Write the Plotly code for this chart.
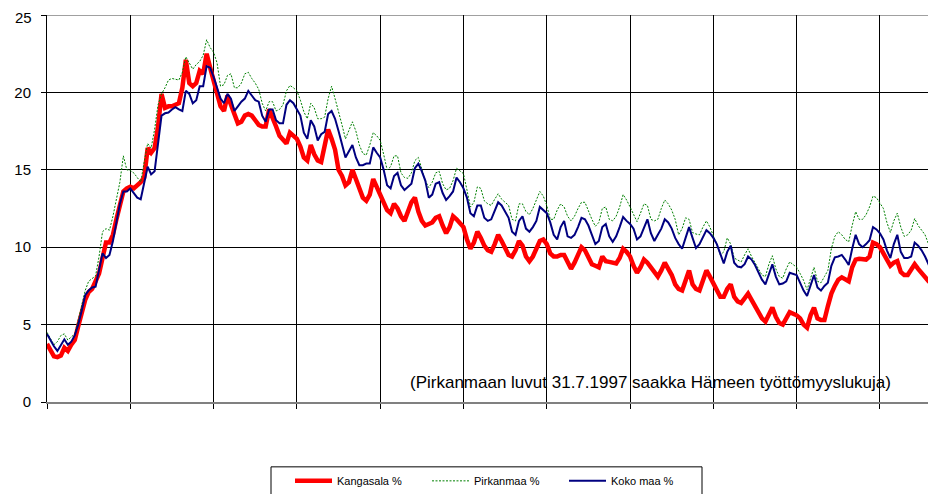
import plotly.graph_objects as go

months = list(range(257))

kangasala = [
    3.75, 3.3, 2.95, 2.9, 3.0, 3.5, 3.3, 3.7, 4.0, 4.9, 5.9, 6.6,
    7.1, 7.3, 7.8, 8.3, 9.3, 10.3, 10.3, 10.8, 11.8, 12.8, 13.6, 13.8,
    13.9, 13.8, 14.0, 14.2, 14.5, 16.4, 16.1, 16.4, 17.8, 19.9, 19.0, 19.1,
    19.1, 19.2, 19.3, 20.3, 22.1, 20.6, 20.4, 20.6, 21.4, 21.2, 22.5, 21.6,
    20.7, 19.8, 19.1, 18.8, 19.8, 19.2, 18.5, 18.0, 18.1, 18.5, 18.6, 18.5,
    18.2, 17.9, 17.8, 17.8, 18.9, 18.4, 17.8, 17.2, 16.9, 16.7, 17.4, 17.2,
    17.0, 16.5, 15.8, 15.6, 16.6, 16.0, 15.6, 15.5, 16.4, 17.6, 17.0, 16.3,
    15.0, 14.6, 14.0, 14.2, 15.0, 14.4, 13.6, 13.2, 13.0, 13.4, 14.4, 13.9,
    13.4, 12.9, 12.4, 12.2, 12.8, 12.5, 12.0, 11.7, 12.3, 12.9, 13.2, 12.3,
    11.7, 11.4, 11.5, 11.6, 11.9, 12.0, 11.4, 10.9, 11.3, 12.0, 11.8, 11.5,
    11.3, 10.5, 9.9, 10.3, 11.0, 10.6, 10.1, 9.8, 9.7, 10.2, 10.8, 10.4,
    9.9, 9.5, 9.4, 9.8, 10.4, 10.1, 9.4, 9.1, 9.4, 9.9, 10.4, 10.5,
    10.2, 9.6, 9.4, 9.4, 9.5, 9.5, 9.0, 8.6, 9.0, 9.6, 10.0, 9.8,
    9.3, 8.9, 8.8, 8.7, 9.4, 9.1, 9.05, 9.0, 8.95, 9.3, 9.9, 9.7,
    9.4, 8.8, 8.35, 8.7, 9.2, 9.0, 8.7, 8.4, 8.1, 8.5, 9.0, 8.6,
    8.2, 7.6, 7.3, 7.2, 7.9, 8.5, 7.6, 7.3, 7.2, 7.8, 8.5, 8.1,
    7.7, 7.2, 6.8, 6.8, 7.3, 7.6, 6.8, 6.5, 6.4, 6.7, 7.0, 6.6,
    6.2, 5.8, 5.4, 5.2, 5.7, 6.1, 5.5, 5.1, 5.0, 5.4, 5.8, 5.7,
    5.6, 5.4, 5.0, 4.8, 5.6, 6.1, 5.4, 5.3, 5.3, 6.2, 7.0, 7.5,
    7.9, 8.05, 7.9, 7.8, 8.7, 9.2, 9.25, 9.2, 9.2, 9.4, 10.3, 10.2,
    10.0, 9.6, 9.2, 8.8, 9.0, 9.1, 8.4, 8.2, 8.2, 8.5, 8.9, 8.6,
    8.3, 8.1, 7.8, 7.6, 7.7,
]

pirkanmaa = [
    4.5, 4.1, 3.7, 3.9, 4.3, 4.4, 4.0, 4.2, 4.4, 5.3, 6.3, 7.2,
    7.8, 8.0, 8.15, 9.4, 11.0, 11.2, 11.1, 12.0, 13.1, 14.2, 15.9, 15.0,
    14.95, 14.8, 14.5, 14.2, 15.5, 16.7, 16.4, 17.6, 19.2, 19.9, 20.3, 20.8,
    20.9, 20.85, 20.8, 21.3, 22.3, 21.9, 21.5, 21.8, 22.0, 22.4, 23.4, 22.9,
    22.6, 21.9, 20.4, 20.5, 21.1, 21.2, 20.3, 20.3, 20.6, 21.2, 21.3, 20.9,
    20.6, 20.2, 19.3, 18.8, 19.4, 19.4, 18.8, 18.9, 19.2, 20.1, 20.45, 20.3,
    20.1, 19.5, 18.75, 18.3, 19.3, 19.0, 18.3, 18.3, 18.4, 19.6, 20.4, 19.6,
    18.8, 17.9, 17.0, 17.5, 18.1, 17.5, 16.6, 16.05, 15.95, 16.6, 17.4, 17.2,
    16.9, 16.0, 15.0, 15.2, 15.9, 15.9, 14.8, 14.5, 14.45, 14.8, 15.6, 15.8,
    15.1, 14.3, 13.85, 14.2, 14.8, 14.9, 14.1, 13.7, 13.8, 14.3, 15.1, 14.9,
    14.75, 13.7, 12.6, 12.9, 13.9, 13.8, 13.0, 12.8, 12.7, 13.1, 13.45, 13.1,
    12.9, 12.7, 11.8, 11.7, 12.8, 12.8, 12.3, 12.1, 12.5, 13.0, 13.6, 13.3,
    12.7, 11.8, 11.8, 12.4, 12.8, 12.6, 12.0, 11.7, 12.0, 12.5, 12.9, 12.9,
    12.3, 11.8, 11.35, 11.6, 12.5, 12.6, 11.8, 11.7, 12.0, 12.6, 13.4, 13.05,
    12.6, 12.1, 11.65, 12.2, 12.8, 12.7, 11.8, 11.7, 11.8, 12.5, 13.05, 12.8,
    12.4, 11.8, 10.8, 11.2, 11.9, 11.8, 10.95, 10.85, 10.8, 11.3, 11.7, 11.3,
    10.8, 10.2, 9.5, 9.7, 10.6, 10.2, 9.3, 9.15, 9.05, 9.5, 9.9, 9.4,
    8.95, 8.6, 8.2, 8.1, 8.9, 9.45, 8.6, 8.1, 8.0, 8.6, 9.05, 8.9,
    8.7, 8.3, 7.85, 7.25, 8.0, 8.7, 7.8, 7.7, 8.1, 8.5, 9.9, 10.7,
    11.0, 10.8, 10.5, 10.35, 11.4, 12.3, 11.8, 11.8, 12.1, 12.6, 13.3, 13.2,
    12.85, 12.5, 11.6, 10.95, 11.7, 12.2, 11.3, 10.7, 10.8, 11.1, 11.85, 11.4,
    11.1, 10.8, 10.2, 9.7, 10.1,
]

koko_maa = [
    4.4, 4.0, 3.6, 3.3, 3.7, 4.05, 3.7, 3.9, 4.3, 5.0, 5.9, 6.9,
    7.2, 7.4, 7.45, 8.5, 9.6, 9.3, 9.5, 10.4, 11.6, 12.8, 13.6, 13.6,
    13.8, 13.5, 13.2, 13.1, 14.2, 15.2, 14.7, 14.9, 16.7, 18.5, 18.65, 18.7,
    18.9, 19.05, 18.9, 18.8, 20.1, 19.9, 19.3, 19.5, 20.4, 20.4, 21.7, 21.6,
    21.0, 20.3, 19.6, 19.3, 19.9, 19.6, 18.8, 19.1, 19.4, 19.6, 20.1, 19.8,
    19.5, 19.4, 18.5, 18.1, 18.9, 18.9, 18.2, 18.0, 18.0, 19.2, 19.5, 19.3,
    18.9, 18.5, 17.4, 17.0, 18.2, 17.8, 16.9, 17.3, 17.45, 18.6, 18.8, 18.3,
    17.5, 16.7, 15.8, 16.2, 16.6, 15.8, 15.3, 15.3, 15.4, 15.4, 16.45, 16.1,
    15.8, 15.0, 14.0, 13.8, 14.6, 14.8, 14.0, 13.7, 13.9, 14.1, 15.1, 15.4,
    14.9, 14.3, 13.2, 13.4, 14.1, 14.2, 13.5, 13.05, 13.3, 13.6, 14.5, 14.2,
    13.8, 13.2, 12.2, 12.0, 12.7, 12.7, 11.9, 11.7, 11.8, 12.3, 12.9, 12.7,
    12.3, 11.9, 11.0, 10.8, 11.7, 12.0, 11.2, 11.0, 11.3, 11.7, 12.6, 12.4,
    12.2, 11.6, 10.8, 10.5, 11.3, 11.7, 10.7, 10.6, 10.8, 11.3, 11.9, 11.8,
    11.4, 10.8, 10.2, 10.4, 11.3, 11.5, 10.7, 10.35, 10.7, 11.3, 11.95, 11.7,
    11.5, 11.2, 10.5, 10.7, 11.3, 11.8, 10.9, 10.4, 10.8, 11.2, 11.8, 11.6,
    11.2, 10.6, 10.2, 9.9, 10.6, 11.3, 10.6, 9.95, 10.2, 10.7, 11.1, 10.9,
    10.6, 10.2, 9.6, 8.95, 9.7, 10.1, 9.0, 8.75, 8.7, 8.9, 9.4, 9.2,
    8.85, 8.4, 7.9, 7.6, 8.3, 8.9, 8.1, 7.6, 7.65, 7.8, 8.35, 8.3,
    8.2, 7.7, 7.2, 6.85, 7.5, 8.2, 7.4, 7.2, 7.5, 7.7, 8.8, 9.35,
    9.4, 9.5, 9.2, 8.85, 9.9, 10.8, 10.2, 10.0, 10.2, 10.45, 11.3, 11.15,
    10.9, 10.5, 9.8, 9.3, 10.2, 10.8, 9.7, 9.3, 9.3, 9.4, 10.3, 10.1,
    9.8, 9.4, 8.9, 8.3, 9.1,
]

series_names = ["Kangasala %", "Pirkanmaa %", "Koko maa %"]
y_ticks = [0, 5, 10, 15, 20, 25]
y_tick_labels = ["0", "5", "10", "15", "20", "25"]
x_grid = [0, 24, 48, 72, 96, 120, 144, 168, 192, 216, 240]
note = "(Pirkanmaan luvut 31.7.1997 saakka Hämeen työttömyyslukuja)"

FONT = "Arial, 'Liberation Sans', sans-serif"

# the page body adds an 8px offset; figure sized so it ends at the window edge
OFF = 8
W, H = 936 - OFF, 494 - OFF
PLOT_LEFT, PLOT_TOP, PLOT_BOTTOM = 47, 15, 401.7   # page pixels
L = PLOT_LEFT - OFF
T = PLOT_TOP - OFF
B = H - (PLOT_BOTTOM - OFF)
PW = W - L
PH = H - T - B


def px_x(p):
    return (p - PLOT_LEFT) / PW


def px_y(p):
    return (PLOT_BOTTOM - p) / PH


# the top tick label sits at the very edge of the figure: draw it as an
# annotation anchored inside the figure so it is not clipped
axis_ticktext = y_tick_labels[:-1] + [""]

fig = go.Figure()
fig.add_trace(go.Scatter(x=months, y=kangasala, name=series_names[0], mode="lines",
                         line=dict(color="#FF0000", width=4.5)))
fig.add_trace(go.Scatter(x=months, y=pirkanmaa, name=series_names[1], mode="lines",
                         line=dict(color="#008000", width=1, dash="2px,1.5px")))
fig.add_trace(go.Scatter(x=months, y=koko_maa, name=series_names[2], mode="lines",
                         line=dict(color="#000080", width=2)))

fig.update_layout(
    width=W, height=H,
    margin=dict(l=L, r=0, t=T, b=B, autoexpand=False),
    paper_bgcolor="white", plot_bgcolor="white",
    font=dict(family=FONT, color="black"),
    showlegend=True,
    legend=dict(orientation="h", x=px_x(290), y=px_y(466),
                xanchor="left", yanchor="top",
                font=dict(size=11, family=FONT), bgcolor="rgba(0,0,0,0)",
                borderwidth=0, entrywidth=85, entrywidthmode="pixels",
                itemwidth=37),
    xaxis=dict(range=[0, 256.15], tickmode="array", tickvals=x_grid, showticklabels=False,
               showgrid=True, gridcolor="#000000", gridwidth=1,
               ticks="outside", ticklen=5, tickcolor="#000000",
               showline=True, linecolor="#808080", linewidth=1.5, zeroline=False,
               automargin=False),
    yaxis=dict(range=[0, 25], tickmode="array", tickvals=y_ticks, ticktext=axis_ticktext,
               showgrid=True, gridcolor="#000000", gridwidth=1,
               ticks="outside", ticklen=5, tickcolor="#000000",
               showline=True, linecolor="#000000", linewidth=1, zeroline=False,
               tickfont=dict(size=15, family=FONT), ticklabelstandoff=7,
               ticklabeloverflow="allow", automargin=False),
    shapes=[
        dict(type="line", xref="paper", yref="y", x0=0, x1=1, y0=25, y1=25,
             line=dict(color="#808080", width=1.5), layer="below"),
        dict(type="rect", xref="paper", yref="paper",
             x0=px_x(271), x1=px_x(702),
             y0=px_y(466.5), y1=px_y(520),
             line=dict(color="#000000", width=1), fillcolor="rgba(0,0,0,0)"),
    ],
    annotations=[
        dict(text=note, xref="paper", yref="paper",
             x=px_x(893), y=px_y(382),
             xanchor="right", yanchor="middle", showarrow=False,
             font=dict(size=17, family=FONT, color="black")),
        dict(text=y_tick_labels[-1], xref="paper", yref="paper",
             x=px_x(32.5), y=px_y(OFF), xanchor="right", yanchor="top",
             showarrow=False, borderpad=0,
             font=dict(size=15, family=FONT, color="black")),
    ],
)

fig.write_html("out.html")
